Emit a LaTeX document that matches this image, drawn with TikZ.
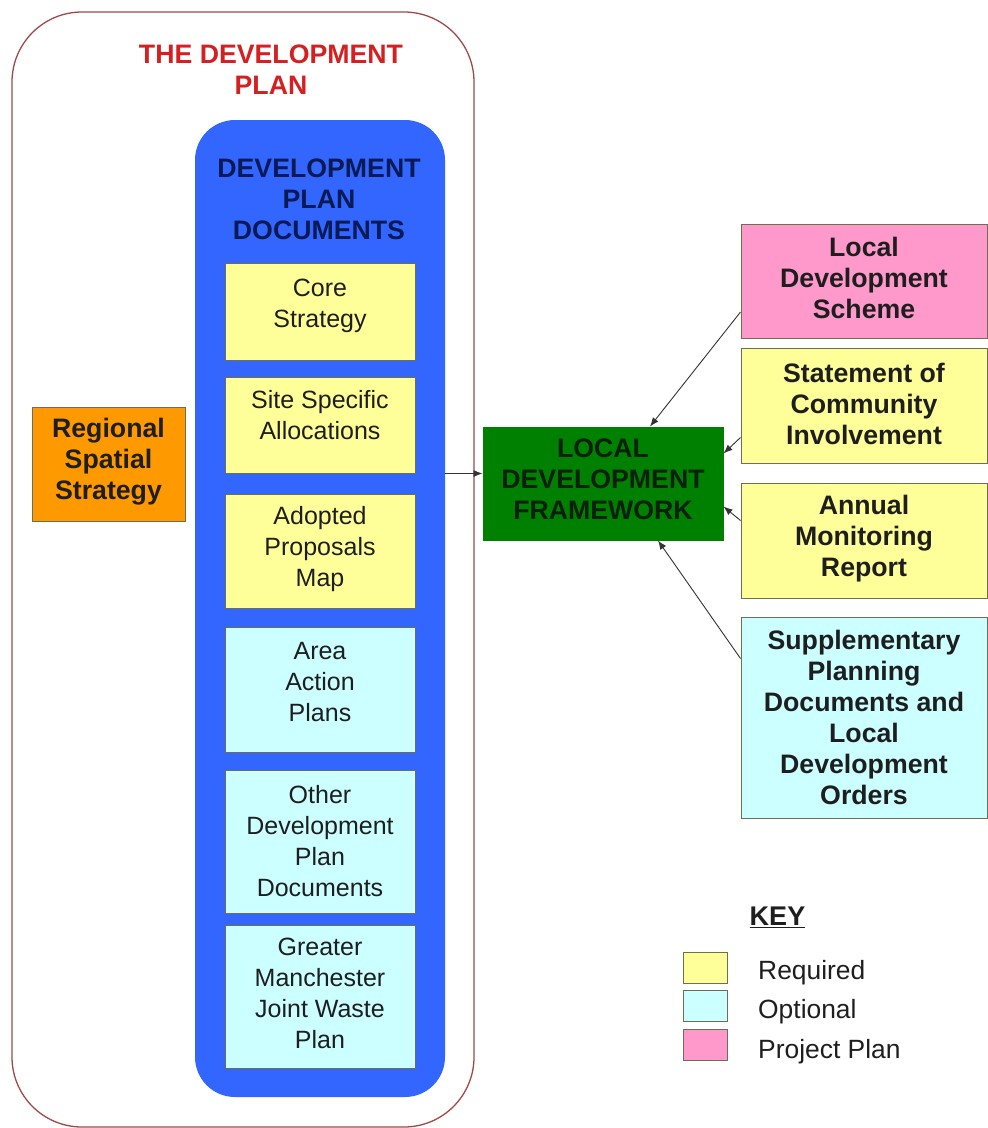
\documentclass[tikz,border=0pt]{standalone}
\usepackage{fontspec}
\setmainfont{Liberation Sans}
\usetikzlibrary{arrows.meta,calc}
\definecolor{yel}{HTML}{FFFF99}
\definecolor{cya}{HTML}{CCFFFF}
\definecolor{pnk}{HTML}{FF99CC}
\definecolor{org}{HTML}{FF9900}
\definecolor{grn}{HTML}{008000}
\definecolor{blu}{HTML}{3366FF}
\definecolor{redline}{HTML}{A04848}
\definecolor{redtxt}{HTML}{D42020}
\definecolor{navy}{HTML}{0A1A55}
\definecolor{bordr}{HTML}{6E6E50}
\definecolor{txt}{HTML}{1E1E1E}
\definecolor{ldftxt}{HTML}{0A200A}
\definecolor{arrc}{HTML}{333333}
\tikzset{
  box/.style={draw=bordr, line width=1pt, inner sep=0pt},
  reqbox/.style={box, fill=yel},
  optbox/.style={box, fill=cya},
  projbox/.style={box, fill=pnk},
  regtext/.style={font=\fontsize{25}{31}\selectfont, text=txt, align=center, inner sep=0pt},
  boldtext/.style={font=\fontsize{26.7}{31}\selectfont\bfseries, text=txt, align=center, inner sep=0pt},
  arr/.style={draw=arrc, line width=0.9pt, -{Latex[length=9pt,width=7pt]}},
  keybox/.style={draw=bordr, line width=1pt, minimum width=44pt, minimum height=31pt, inner sep=0pt},
  keylabel/.style={anchor=west, inner sep=0pt, font=\fontsize{26.4}{30}\selectfont, text=txt},
}
\begin{document}
\begin{tikzpicture}[x=1pt,y=-1pt]
\useasboundingbox (0,0) rectangle (988,1128);
% outer development plan
\node[draw=redline, line width=1.3pt, rounded corners=70pt, minimum width=462pt, minimum height=1115pt, inner sep=0pt] (outer) at (243,569.5) {};
\node[boldtext, text=redtxt] (title) at (271,70) {THE DEVELOPMENT\\PLAN};
% blue container
\node[fill=blu, rounded corners=40pt, minimum width=250pt, minimum height=977pt, inner sep=0pt] (dpd) at (320,608.5) {};
\node[boldtext, text=navy] (dpdtitle) at (319,199) {DEVELOPMENT\\PLAN\\DOCUMENTS};
% inner boxes
\node[reqbox, minimum width=190pt, minimum height=97pt] (core) at (320,311.5) {};
\node[regtext] (coret) at ([yshift=6pt]core.center) {Core\\Strategy};
\node[reqbox, minimum width=190pt, minimum height=96pt] (site) at (320,425) {};
\node[regtext] (sitet) at ([yshift=10pt]site.center) {Site Specific\\Allocations};
\node[reqbox, minimum width=190pt, minimum height=114pt] (adopt) at (320,551) {};
\node[regtext] (adoptt) at ([yshift=2pt]adopt.center) {Adopted\\Proposals\\Map};
\node[optbox, minimum width=190pt, minimum height=125pt] (aap) at (320,689.5) {};
\node[regtext] (aapt) at ([yshift=7pt]aap.center) {Area\\Action\\Plans};
\node[optbox, minimum width=190pt, minimum height=143pt] (other) at (320,841.5) {};
\node[regtext] (othert) at (other.center) {Other\\Development\\Plan\\Documents};
\node[optbox, minimum width=190pt, minimum height=143pt] (gm) at (320,996.5) {};
\node[regtext] (gmt) at ([yshift=3pt]gm.center) {Greater\\Manchester\\Joint Waste\\Plan};
% regional spatial strategy
\node[box, fill=org, minimum width=153pt, minimum height=114pt] (rss) at (108.5,464) {};
\node[boldtext] (rsst) at ([yshift=2pt]rss.center) {Regional\\Spatial\\Strategy};
% LDF
\node[box, draw=grn, fill=grn, minimum width=240pt, minimum height=113pt] (ldf) at (603,483.5) {};
\node[boldtext, text=ldftxt] (ldft) at ([yshift=4pt]ldf.center) {LOCAL\\DEVELOPMENT\\FRAMEWORK};
% right column
\node[projbox, minimum width=246pt, minimum height=114pt] (lds) at (864,281) {};
\node[boldtext] (ldst) at ([yshift=3pt]lds.center) {Local\\Development\\Scheme};
\node[reqbox, minimum width=246pt, minimum height=115pt] (sci) at (864,405.5) {};
\node[boldtext] (scit) at ([yshift=2pt]sci.center) {Statement of\\Community\\Involvement};
\node[reqbox, minimum width=246pt, minimum height=115pt] (amr) at (864,540.5) {};
\node[boldtext] (amrt) at ([yshift=2pt]amr.center) {Annual\\Monitoring\\Report};
\node[optbox, minimum width=246pt, minimum height=201pt] (spd) at (864,717.5) {};
\node[boldtext] (spdt) at (spd.center) {Supplementary\\Planning\\Documents and\\Local\\Development\\Orders};
% connectors
\coordinate (ldfin) at ([yshift=10pt]ldf.west);
\draw[arr] (dpd.east |- ldfin) -- (ldfin);
\draw[arr] ([yshift=-31pt]lds.west) -- ([xshift=47pt]ldf.north);
\draw[arr] ([yshift=-32pt]sci.west) -- ([yshift=30pt]ldf.east);
\draw[arr] ([yshift=20pt]amr.west) -- ([yshift=-23pt]ldf.east);
\draw[arr] ([yshift=59pt]spd.west) -- ([xshift=55pt]ldf.south);
% key
\node[font=\fontsize{27}{31}\selectfont\bfseries, text=txt, inner sep=0pt] (key) at (777.5,917) {\underline{KEY}};
\node[keybox, fill=yel] (k1) at (705,967.5) {};
\node[keybox, fill=cya] (k2) at (705,1005.5) {};
\node[keybox, fill=pnk] (k3) at (705,1044.5) {};
\node[keylabel] (l1) at (758,973) {Required};
\node[keylabel] (l2) at (758,1012) {Optional};
\node[keylabel] (l3) at (758,1052) {Project Plan};
\end{tikzpicture}
\end{document}
